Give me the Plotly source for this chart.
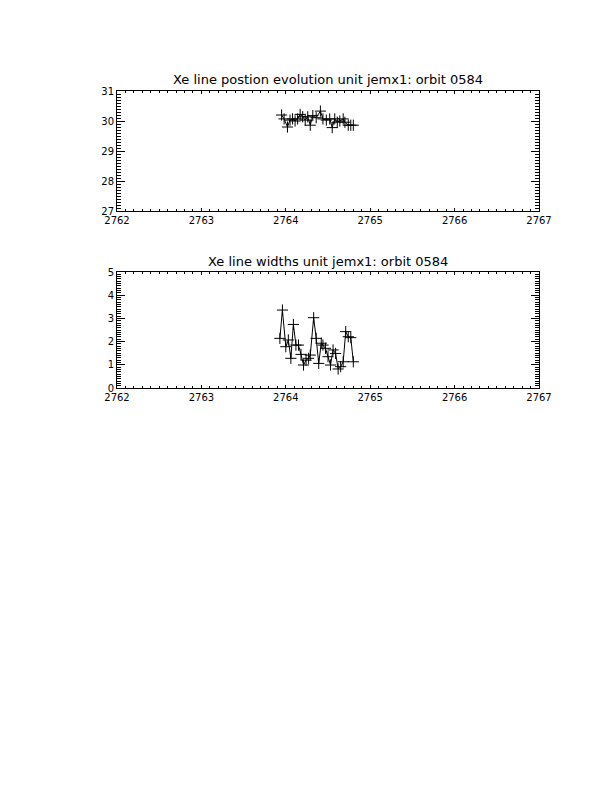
import plotly.graph_objects as go

# top panel: line position
pos_x = [2763.95, 2763.98, 2764.02, 2764.05, 2764.08, 2764.11, 2764.14, 2764.17,
         2764.20, 2764.23, 2764.26, 2764.29, 2764.32, 2764.36, 2764.41, 2764.44,
         2764.48, 2764.52, 2764.55, 2764.58, 2764.61, 2764.64, 2764.68, 2764.70,
         2764.74, 2764.77, 2764.80]
pos_y = [30.20, 30.07, 29.80, 30.03, 30.07, 30.00, 30.07, 30.22,
         30.14, 30.03, 30.14, 29.86, 30.18, 30.11, 30.33, 30.07,
         30.03, 30.07, 29.78, 30.07, 29.96, 30.00, 30.07, 29.96,
         29.86, 29.86, 29.86]

# bottom panel: line widths
wid_x = [2763.93, 2763.96, 2764.00, 2764.03, 2764.06, 2764.09, 2764.12, 2764.15,
         2764.18, 2764.21, 2764.24, 2764.27, 2764.29, 2764.33, 2764.36, 2764.39,
         2764.42, 2764.44, 2764.47, 2764.50, 2764.53, 2764.56, 2764.59, 2764.62,
         2764.65, 2764.68, 2764.71, 2764.74, 2764.77, 2764.80]
wid_y = [2.14, 3.36, 1.78, 2.07, 1.28, 2.74, 1.85, 1.85,
         1.45, 0.99, 1.20, 1.28, 1.42, 3.03, 2.14, 1.06,
         1.93, 1.85, 1.71, 1.35, 0.99, 1.64, 1.49, 0.82,
         0.92, 1.13, 2.43, 2.21, 2.17, 1.13]

x_ticks = [2762, 2763, 2764, 2765, 2766, 2767]
top_title = "Xe line postion evolution unit jemx1: orbit 0584"
bot_title = "Xe line widths unit jemx1: orbit 0584"

# page has an 8px body margin, so figure coords = screen coords - 8
W, H = 596, 776
OFF = 8
L, R = 117 - OFF, 539 - OFF
T1, B1 = 91 - OFF, 211 - OFF
T2, B2 = 272 - OFF, 388 - OFF
TT1, TT2 = 79 - OFF, 262 - OFF

fig = go.Figure()
mk = dict(symbol="cross-thin", size=8, color="black", line=dict(color="black", width=1))
fig.add_trace(go.Scatter(x=pos_x, y=pos_y, mode="lines+markers", xaxis="x", yaxis="y",
                         line=dict(color="black", width=1), marker=mk, showlegend=False))
fig.add_trace(go.Scatter(x=wid_x, y=wid_y, mode="lines+markers", xaxis="x2", yaxis="y2",
                         line=dict(color="black", width=1), marker=mk, showlegend=False))

font = dict(family="DejaVu Sans", size=10, color="black")

def xax(dom, anchor):
    return dict(domain=dom, anchor=anchor, range=[2762, 2767], tickvals=x_ticks,
                ticktext=[str(v) for v in x_ticks], ticks="inside", ticklen=3,
                tickcolor="black", showline=True, linecolor="black", linewidth=1,
                mirror="ticks", showgrid=False, zeroline=False, tickfont=font,
                automargin=False,
                minor=dict(dtick=0.1, ticks="inside", ticklen=2, tickcolor="black", showgrid=False))

def yax(dom, anchor, rng, dtick):
    return dict(domain=dom, anchor=anchor, range=rng, dtick=dtick, ticks="inside",
                ticklen=8, tickcolor="black", showline=True, linecolor="black", linewidth=1,
                mirror="ticks", showgrid=False, zeroline=False, tickfont=font,
                automargin=False,
                minor=dict(dtick=dtick / 10, ticks="inside", ticklen=4, tickcolor="black", showgrid=False))

xd = [L / W, R / W]
tfont = dict(family="DejaVu Sans", size=13, color="black")
fig.update_layout(
    width=W, height=H, margin=dict(l=0, r=0, t=0, b=0, autoexpand=False),
    paper_bgcolor="white", plot_bgcolor="white",
    xaxis=xax(xd, "y"),
    yaxis=yax([1 - B1 / H, 1 - T1 / H], "x", [27, 31], 1),
    xaxis2=xax(xd, "y2"),
    yaxis2=yax([1 - B2 / H, 1 - T2 / H], "x2", [0, 5], 1),
    annotations=[
        dict(text=top_title, x=(L + R) / 2 / W, y=1 - TT1 / H, xref="paper", yref="paper",
             xanchor="center", yanchor="middle", showarrow=False, font=tfont),
        dict(text=bot_title, x=(L + R) / 2 / W, y=1 - TT2 / H, xref="paper", yref="paper",
             xanchor="center", yanchor="middle", showarrow=False, font=tfont),
    ],
)

fig.write_html("out.html")
